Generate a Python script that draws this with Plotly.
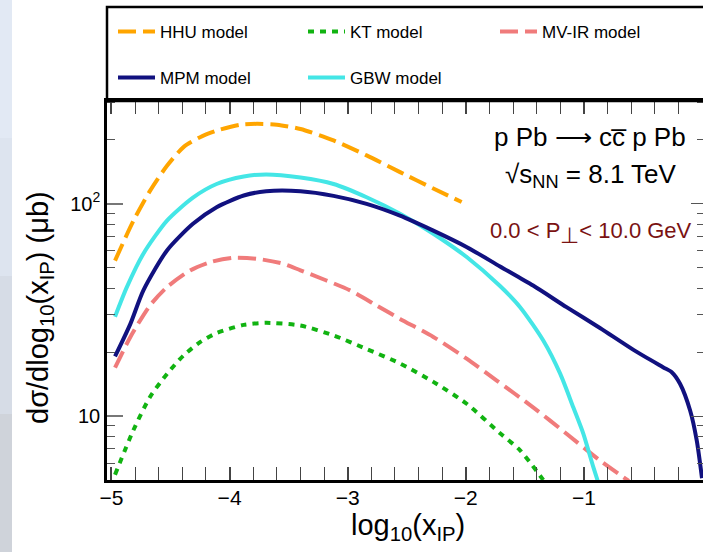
import numpy as np
import plotly.graph_objects as go

# ---------------- data ----------------
hhu_x = [-4.97, -4.815, -4.674, -4.53, -4.39, -4.25, -4.11, -3.91, -3.77, -3.60, -3.40,
         -3.12, -2.84, -2.557, -2.275, -2.035]
hhu_y = [54, 83, 115, 151, 185, 206, 221, 236, 238, 236, 225, 199, 169, 141, 118, 102]

kt_x = [-4.97, -4.815, -4.674, -4.53, -4.39, -4.25, -4.11, -3.88, -3.69, -3.40, -3.12,
        -2.84, -2.557, -2.275, -1.99, -1.71, -1.54, -1.344]
kt_y = [5.3, 8.57, 12.3, 15.8, 19.3, 22.3, 24.6, 26.9, 27.5, 26.7, 24.0, 20.7, 17.7,
        14.5, 11.4, 8.3, 6.9, 5.0]

mvir_x = [-4.97, -4.84, -4.674, -4.53, -4.335, -4.166, -3.97, -3.77, -3.545, -3.40,
          -2.98, -2.755, -2.557, -2.275, -1.99, -1.738, -1.43, -1.147, -0.864, -0.62]
mvir_y = [16.9, 23.6, 33.2, 40.5, 48.5, 53.1, 55.7, 55.1, 52.2, 48.6, 39.1, 33.2, 28.7,
          23.6, 18.6, 14.7, 11.0, 8.26, 6.18, 4.95]

mpm_x = [-4.97, -4.84, -4.73, -4.53, -4.31, -4.11, -3.88, -3.69, -3.40, -3.12, -2.84,
         -2.557, -2.275, -1.99, -1.71, -1.43, -1.147, -0.864, -0.58, -0.33, -0.256,
         -0.186, -0.10, -0.045, 0.0]
mpm_y = [19.1, 27.2, 39.1, 60.3, 80.5, 96.4, 109.4, 114.6, 114.6, 109, 100, 88, 74.8,
         62.5, 50.7, 41.2, 32.6, 26.0, 20.5, 17.0, 16.1, 14.2, 10.6, 7.7, 5.1]

gbw_x = [-4.97, -4.87, -4.73, -4.53, -4.31, -4.11, -3.88, -3.69, -3.40, -3.12, -2.84,
         -2.557, -2.275, -1.99, -1.71, -1.54, -1.344, -1.20, -1.09, -1.005, -0.92, -0.87]
gbw_y = [29.4, 40.5, 58.2, 83.4, 107, 124, 134.5, 137.5, 133, 124, 107.4, 89.8, 72.3,
         56, 41, 32.6, 22.7, 15.8, 11.0, 8.27, 5.75, 4.7]

x_tick_vals = [-5, -4, -3, -2, -1, 0]
y_tick_vals = [10, 100]
y_tick_text = ["10", "10<sup>2</sup>"]
y_minor_vals = [6, 7, 8, 9, 20, 30, 40, 50, 60, 70, 80, 90, 200, 300]

# ---------------- figure ----------------
W, H = 703, 552
L, R, T, B = 107, 0, 101, 72
FONT = "Liberation Sans, Arial, sans-serif"

def px_x(p):
    return (p - L) / (W - L - R)

def px_y(p):
    return (H - B - p) / (H - T - B)

fig = go.Figure()

def add(x, y, name, color, dash, legend):
    fig.add_trace(go.Scatter(
        x=x, y=y, name=name, mode="lines", legend=legend,
        line=dict(color=color, width=4, dash=dash, shape="spline", smoothing=0.7),
        hoverinfo="skip"))

add(hhu_x, hhu_y, "HHU model", "#ffa500", "18px,7px", "legend")
add(kt_x, kt_y, "KT model", "#11b311", "6px,6px", "legend2")
add(mvir_x, mvir_y, "MV-IR model", "#f07b7b", "18px,7px", "legend3")
add(gbw_x, gbw_y, "GBW model", "#44e6e6", "solid", "legend5")
add(mpm_x, mpm_y, "MPM model", "#11117f", "solid", "legend4")

# invisible trace to carry the mirrored right axis
fig.add_trace(go.Scatter(x=[None], y=[None], yaxis="y2", showlegend=False, hoverinfo="skip"))

yr = [np.log10(5), np.log10(305)]
xr = [-5.038, 0.0085]

legend_common = dict(orientation="h", xanchor="left", yanchor="middle", itemwidth=37,
                     bgcolor="rgba(0,0,0,0)", borderwidth=0,
                     font=dict(size=17, family=FONT))
leg_pos = {"legend": (113, 32), "legend2": (303, 32), "legend3": (495, 32),
           "legend4": (113, 78), "legend5": (303, 78)}

fig.update_layout(
    width=W, height=H,
    margin=dict(l=L, r=R, t=T, b=B, pad=0),
    paper_bgcolor="white", plot_bgcolor="white",
    font=dict(family=FONT, color="black"),
    xaxis=dict(range=xr, tickvals=x_tick_vals, ticks="inside", ticklen=13,
               tickwidth=1.5, tickcolor="#444", showgrid=False, zeroline=False,
               showline=True, linewidth=2.5, linecolor="black", mirror="allticks",
               tickfont=dict(size=21, family=FONT), ticklabelstandoff=-3,
               minor=dict(dtick=0.2, tick0=0, ticks="inside", ticklen=6,
                          tickwidth=1.2, tickcolor="#444", showgrid=False)),
    yaxis=dict(type="log", range=yr, tickvals=y_tick_vals, ticktext=y_tick_text,
               ticks="inside", ticklen=16, tickwidth=1.5, tickcolor="#777",
               showgrid=False, zeroline=False, showline=True, linewidth=2.5,
               linecolor="black", tickfont=dict(size=20, family=FONT),
               minor=dict(tickvals=y_minor_vals, ticks="inside", ticklen=8,
                          tickwidth=1.2, tickcolor="#555", showgrid=False)),
    yaxis2=dict(type="log", range=yr, overlaying="y", side="right",
                tickvals=y_tick_vals, showticklabels=False, ticks="inside",
                ticklen=12, tickwidth=1.2, tickcolor="#555", showgrid=False,
                zeroline=False, showline=False,
                minor=dict(tickvals=y_minor_vals, ticks="inside", ticklen=6,
                           tickwidth=1.2, tickcolor="#555", showgrid=False)),
    showlegend=True,
)
for key, (lx, ly) in leg_pos.items():
    fig.update_layout({key: dict(x=px_x(lx), y=px_y(ly), **legend_common)})

shapes = [
    # legend box
    dict(type="rect", xref="paper", yref="paper", x0=0, x1=1.05, y0=1.0, y1=px_y(7),
         line=dict(color="black", width=2.5), fillcolor="rgba(0,0,0,0)", layer="above"),
]
# left light strip (window edge)
strip_cols = ["#e2e9f4", "#dde4ef", "#d6dce6", "#cfd3da"]
for i, c in enumerate(strip_cols):
    shapes.append(dict(type="rect", xref="paper", yref="paper",
                       x0=px_x(0), x1=px_x(12),
                       y0=px_y(552 * (i + 1) / 4), y1=px_y(552 * i / 4),
                       line=dict(width=0), fillcolor=c, layer="below"))
fig.update_layout(shapes=shapes)

ann = [
    dict(text="p Pb \u27f6 cc\u0305 p Pb", x=px_x(590), y=px_y(137), font=dict(size=26)),
    dict(text="\u221as<sub>NN</sub> = 8.1 TeV", x=px_x(591), y=px_y(175), font=dict(size=26)),
    dict(text="0.0 < P<sub><span style='font-size:22px'>\u22a5</span></sub>< 10.0 GeV",
         x=px_x(591), y=px_y(233), font=dict(size=22, color="#7a1212")),
    dict(text="log<sub>10</sub>(x<sub>IP</sub>)", x=px_x(408), y=px_y(527), font=dict(size=29)),
    dict(text="d\u03c3/dlog<sub>10</sub>(x<sub>IP</sub>) (\u03bcb)", x=px_x(40), y=px_y(308),
         textangle=-90, font=dict(size=29)),
]
for a in ann:
    a.update(xref="paper", yref="paper", showarrow=False, xanchor="center", yanchor="middle")
    a["font"].setdefault("family", FONT)
    a["font"].setdefault("color", "black")
fig.update_layout(annotations=ann)

fig.write_html("out.html", config={"displayModeBar": False})
